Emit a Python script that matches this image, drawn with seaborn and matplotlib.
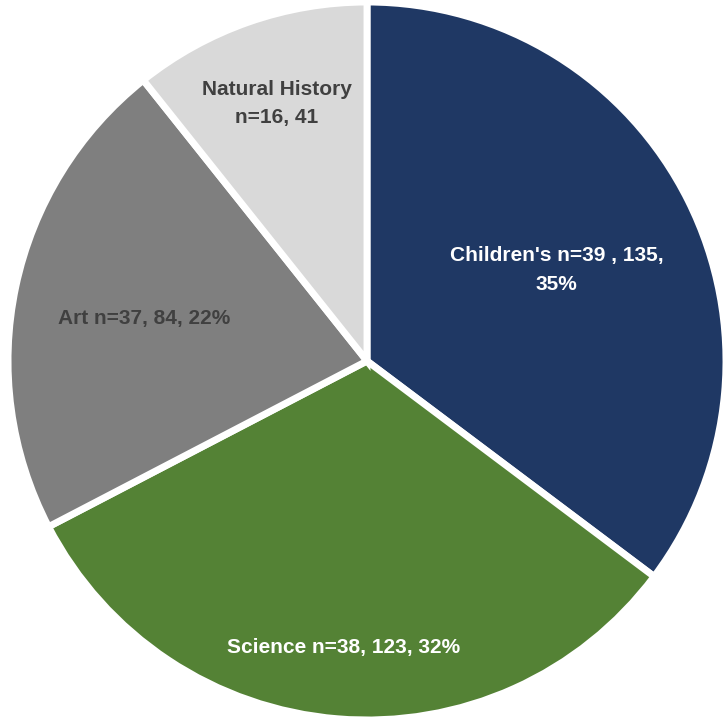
import matplotlib
matplotlib.use("Agg")
import matplotlib.pyplot as plt
import seaborn as sns
import numpy as np

sns.set_theme(style="white")
plt.rcParams['font.family'] = ['Liberation Sans', 'DejaVu Sans']

categories = ["Children's", "Science", "Art", "Natural History"]
values = [135, 123, 84, 41]
labels = ["Children's n=39 , 135,\n35%", "Science n=38, 123, 32%", "Art n=37, 84, 22%", "Natural History\nn=16, 41"]
colors = ["#1f3864", "#548235", "#7f7f7f", "#d9d9d9"]
text_colors = ["white", "white", "#404040", "#404040"]
label_r = [0.59, 0.80, 0.635, 0.76]
label_dy_px = [-4, 0, -5, 0]

fig = plt.figure(figsize=(7.24, 7.17), dpi=100)
ax = fig.add_axes([0, 0, 1, 1])
wedges, _ = ax.pie(values, colors=colors, startangle=90, counterclock=False,
                   wedgeprops=dict(edgecolor="white", linewidth=5))
s = 359
for w, lab, tc, r, dy in zip(wedges, labels, text_colors, label_r, label_dy_px):
    ang = np.deg2rad((w.theta1 + w.theta2) / 2)
    ax.text(r * np.cos(ang), r * np.sin(ang) + dy / s, lab, ha="center", va="center",
            color=tc, fontsize=15, fontweight="bold", linespacing=1.65)
ax.set_xlim(-367 / s, (724 - 367) / s)
ax.set_ylim(-(717 - 361) / s, 361 / s)
ax.set_aspect("auto")
ax.axis("off")
fig.savefig("out.png", dpi=100)
